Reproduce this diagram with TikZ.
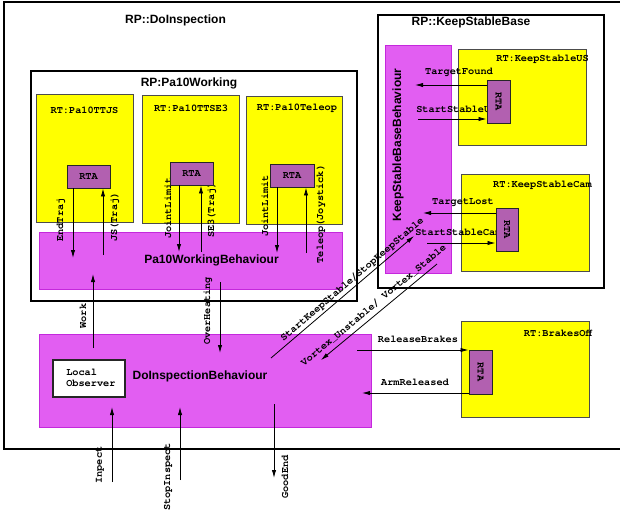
\documentclass[tikz,border=0pt]{standalone}
\usepackage{fontspec}
\setmainfont{Liberation Sans}
\newfontfamily\msgfont{texgyrecursor}[Extension=.otf, UprightFont=*-regular, BoldFont=*-bold]
\usetikzlibrary{arrows.meta,fit}

\definecolor{rtyellow}{RGB}{255,255,0}
\definecolor{behfill}{RGB}{226,94,242}
\definecolor{behdraw}{RGB}{196,40,220}
\definecolor{rtafill}{RGB}{178,96,176}

\begin{document}
\begin{tikzpicture}[x=0.75pt,y=-0.75pt,
  container/.style={draw=black, line width=1.4pt, inner sep=0pt},
  rtbox/.style={draw=black!70, fill=rtyellow, line width=0.7pt, inner sep=0pt},
  behbox/.style={draw=behdraw, fill=behfill, line width=0.7pt, inner sep=0pt},
  rtabox/.style={draw=black!85, fill=rtafill, line width=0.7pt, inner sep=0pt},
  obsbox/.style={draw=black!85, fill=white, line width=0.8pt, inner sep=0pt},
  title/.style={font=\fontsize{9}{10}\selectfont\bfseries, inner sep=0pt},
  msg/.style={font=\msgfont\fontsize{7.7}{8.6}\selectfont\bfseries, inner sep=0pt},
  sig/.style={draw=black, line width=0.6pt, -{Latex[length=6pt,width=3.2pt]}},
  sigback/.style={draw=black, line width=0.6pt, {Latex[length=6pt,width=3.2pt]}-},
]
\useasboundingbox (0,0) rectangle (620,512);

% ---- containers ----
\node[container, fit={(4,2) (623,449)}] (doinsp) {};
\node[container, fit={(31,71) (357,301)}] (pa10w) {};
\node[container, fit={(378,15) (604,288)}] (ksbase) {};

\node[title] (tdoinsp) at (175.5,20) {RP::DoInspection};
\node[title] (tpa10w) at (189,83) {RP:Pa10Working};
\node[title] (tksbase) at (471,22) {RP::KeepStableBase};

% ---- real-time task boxes ----
\node[rtbox, fit={(36,94) (133,222)}] (ttjs) {};
\node[rtbox, fit={(142,95) (239,223)}] (ttse) {};
\node[rtbox, fit={(246,96) (342,224)}] (tele) {};
\node[rtbox, fit={(458,49) (586,145)}] (ksus) {};
\node[rtbox, fit={(461,174) (589,271)}] (kscam) {};
\node[rtbox, fit={(461,321) (589,417)}] (brk) {};

\node[msg] (lttjs) at (84.5,110) {RT:Pa10TTJS};
\node[msg] (lttse) at (191,108) {RT:Pa10TTSE3};
\node[msg] (ltele) at (297,108) {RT:Pa10Teleop};
\node[msg, anchor=east] (lksus) at (589,59) {RT:KeepStableUS};
\node[msg, anchor=east] (lkscam) at (592,185) {RT:KeepStableCam};
\node[msg, anchor=east] (lbrk) at (592,333) {RT:BrakesOff};

% ---- behaviours ----
\node[behbox, fit={(39,232) (342,289)}] (pa10beh) {};
\node[behbox, fit={(39,334) (371,427)}] (doibeh) {};
\node[behbox, fit={(385,45) (451,273)}] (ksbeh) {};

\node[title] at (211.5,260) {Pa10WorkingBehaviour};
\node[title] at (200,376) {DoInspectionBehaviour};
\node[title, rotate=90] at (398,145) {KeepStableBaseBehaviour};

\node[obsbox, fit={(53,360) (125,397)}] (lobs) {};
\node[msg, align=left, anchor=west] at (66,378) {Local\\Observer};

% ---- message labels ----
\node[msg, rotate=90] at (61,220) {EndTraj};
\node[msg, rotate=90] at (115,217) {JS(Traj)};
\node[msg, rotate=90] at (168,208) {JointLimit};
\node[msg, rotate=90] at (212,210) {SE3(Traj)};
\node[msg, rotate=90] at (265,206) {JointLimit};
\node[msg, rotate=90] at (321,214) {Teleop(Joystick)};
\node[msg, rotate=90] at (83,316) {Work};
\node[msg, rotate=90] at (208,311) {OverHeating};
\node[msg, rotate=90] at (100,465) {Inpect};
\node[msg, rotate=90] at (168,477) {StopInspect};
\node[msg, rotate=90] at (285,477) {GoodEnd};

\node[msg] at (459,72) {TargetFound};
\node[msg, anchor=west] at (416,109) {StartStableUS};
\node[msg] at (463,203) {TargetLost};
\node[msg, anchor=west] at (415,232) {StartStableCam};
\node[msg] at (418,339) {ReleaseBrakes};
\node[msg] at (415,382) {ArmReleased};

% ---- RTA interfaces ----
\node[rtabox, fit={(67,165) (110,188)}] (rta1) {};
\node[msg] at (rta1) {RTA};
\node[rtabox, fit={(170,162) (213,185)}] (rta2) {};
\node[msg] at (rta2) {RTA};
\node[rtabox, fit={(270,164) (314,187)}] (rta3) {};
\node[msg] at (rta3) {RTA};
\node[rtabox, fit={(487,80) (510,123)}] (rtaus) {};
\node[msg, rotate=-90] at (rtaus) {RTA};
\node[rtabox, fit={(496,208) (518,251)}] (rtacam) {};
\node[msg, rotate=-90] at (rtacam) {RTA};
\node[rtabox, fit={(469,350) (492,394)}] (rtabr) {};
\node[msg, rotate=-90] at (rtabr) {RTA};

% ---- free ends of the messages ----
\coordinate (endtraj) at (73,258);
\coordinate (jstraj) at (103,255);
\coordinate (jl2) at (179,252);
\coordinate (se3) at (201,252);
\coordinate (jl3) at (277,253);
\coordinate (teleop) at (306,253);
\coordinate (worka) at (93,348);
\coordinate (workb) at (93,274);
\coordinate (overa) at (220,282);
\coordinate (overb) at (220,353);
\coordinate (inpa) at (112,482);
\coordinate (inpb) at (112,407);
\coordinate (stopa) at (180,480);
\coordinate (stopb) at (180,407);
\coordinate (gooda) at (274,404);
\coordinate (goodb) at (274,478);
\coordinate (ksa) at (271,358);
\coordinate (ksb) at (414,236);
\coordinate (vxa) at (321,360);
\coordinate (vxb) at (437,264);
\coordinate (tfound) at (415,85);
\coordinate (sus) at (418,119);
\coordinate (tlost) at (423,213);
\coordinate (scam) at (427,243);
\coordinate (relb) at (357,350);
\coordinate (armr) at (362,393);

% ---- messages ----
\draw[sig] (rta1.south -| endtraj) -- (endtraj);
\draw[sig] (jstraj) -- (rta1.south -| jstraj);
\draw[sig] (rta2.south -| jl2) -- (jl2);
\draw[sig] (se3) -- (rta2.south -| se3);
\draw[sig] (rta3.south -| jl3) -- (jl3);
\draw[sig] (teleop) -- (rta3.south -| teleop);
\draw[sig] (worka) -- (workb);
\draw[sig] (overa) -- (overb);
\draw[sig] (inpa) -- (inpb);
\draw[sig] (stopa) -- (stopb);
\draw[sig] (gooda) -- (goodb);

\draw[sig] (ksa) -- (ksb)
  node[msg, pos=0.6, sloped, above=1.5pt] {StartKeepStable/StopKeepStable};
\draw[sigback] (vxa) -- (vxb)
  node[msg, pos=0.5, sloped, above=3pt] {Vortex\_Unstable/ Vortex\_Stable};

\draw[sig] (rtaus.west |- tfound) -- (tfound);
\draw[sig] (sus) -- (rtaus.west |- sus);
\draw[sig] (rtacam.west |- tlost) -- (tlost);
\draw[sig] (scam) -- (rtacam.west |- scam);
\draw[sig] (relb) -- (rtabr.west |- relb);
\draw[sig] (rtabr.west |- armr) -- (armr);
\end{tikzpicture}
\end{document}
